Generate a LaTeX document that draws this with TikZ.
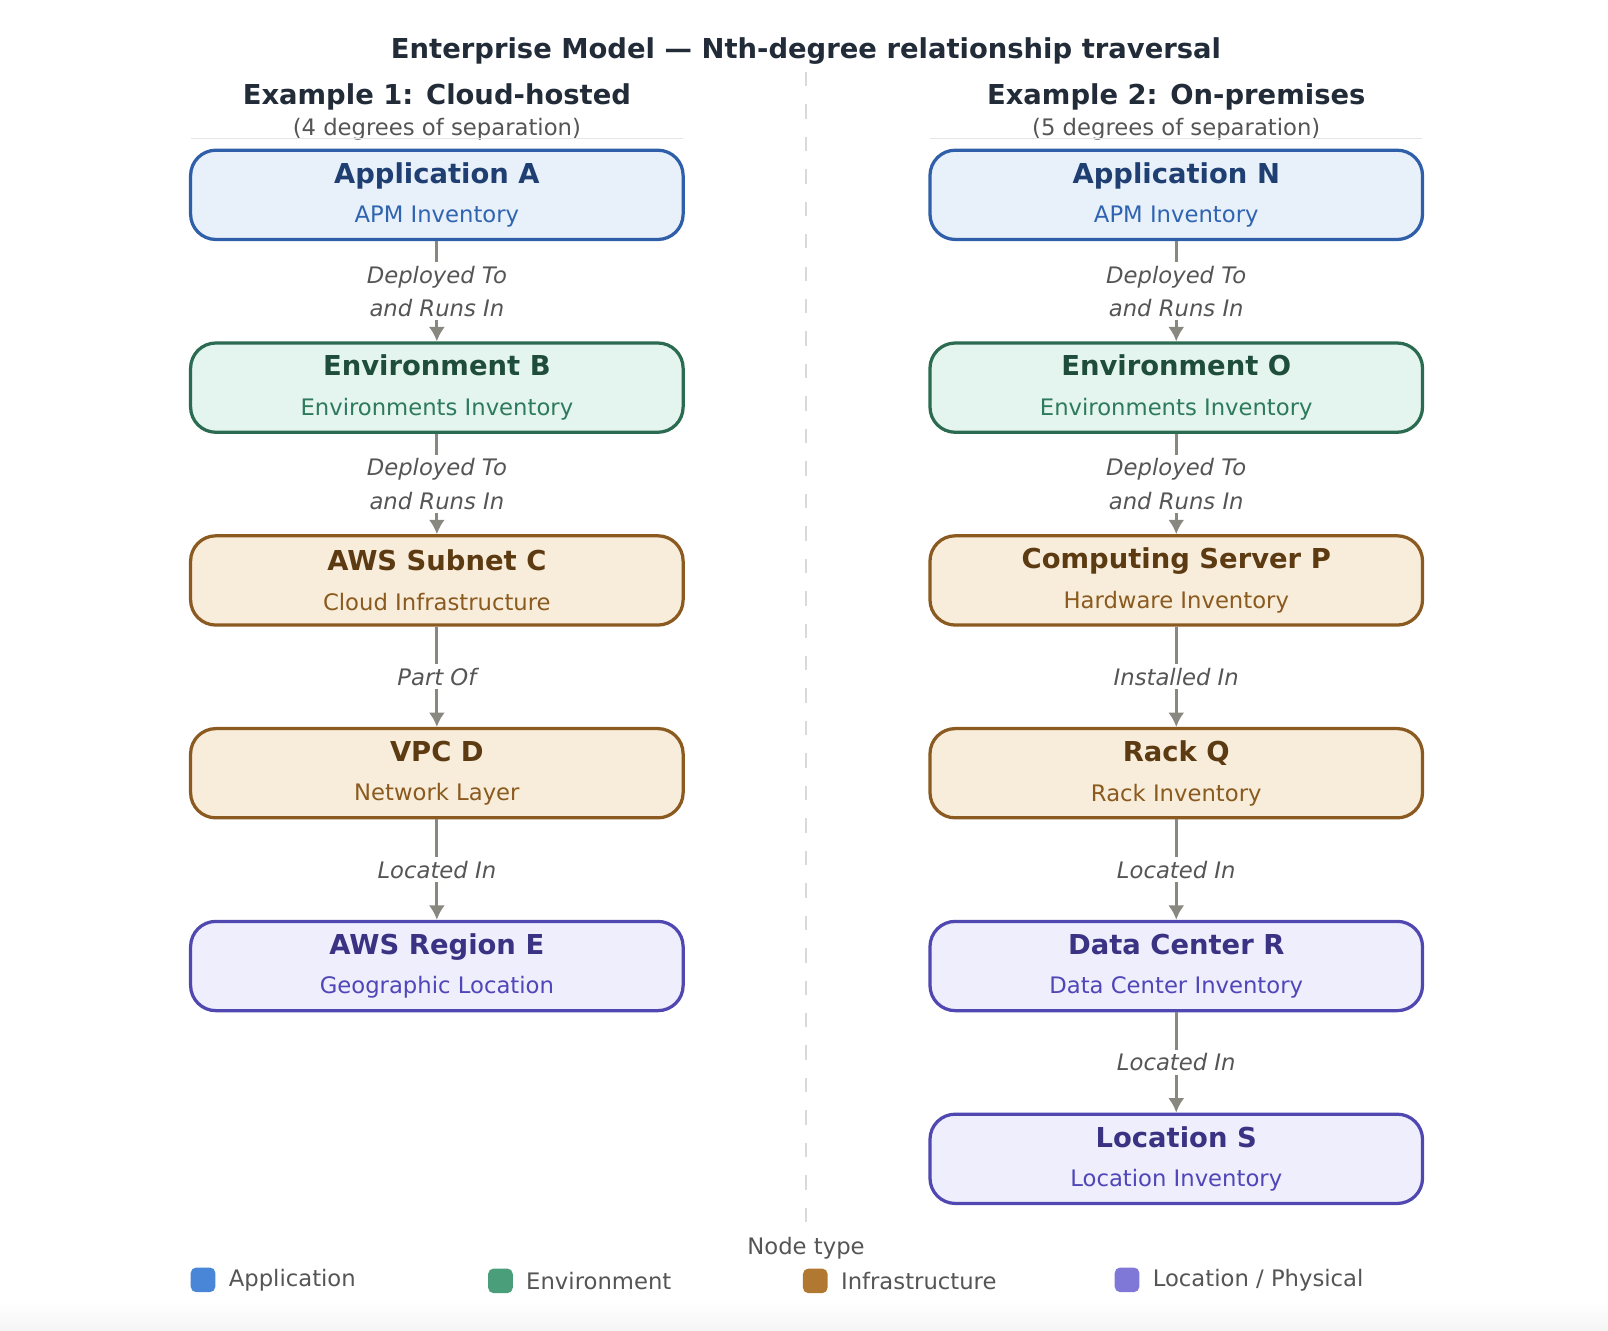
\documentclass[tikz,border=0pt]{standalone}
\usepackage{fontspec}
\setmainfont{DejaVu Sans}
\usetikzlibrary{positioning,arrows.meta}
\definecolor{appfill}{HTML}{E8F0FA}\definecolor{appdraw}{HTML}{2F5FA8}
\definecolor{apptxt}{HTML}{1F3F73}\definecolor{appsub}{HTML}{2F64B0}
\definecolor{envfill}{HTML}{E4F4EE}\definecolor{envdraw}{HTML}{2A6B52}
\definecolor{envtxt}{HTML}{1F4D3C}\definecolor{envsub}{HTML}{2E7A5E}
\definecolor{inffill}{HTML}{F8EDDA}\definecolor{infdraw}{HTML}{8A5A20}
\definecolor{inftxt}{HTML}{5C3A12}\definecolor{infsub}{HTML}{8A5A1F}
\definecolor{locfill}{HTML}{EEEEFC}\definecolor{locdraw}{HTML}{5048B0}
\definecolor{loctxt}{HTML}{3A3283}\definecolor{locsub}{HTML}{5046B8}
\definecolor{headtxt}{HTML}{222B38}\definecolor{greytxt}{HTML}{555555}
\definecolor{edgegrey}{HTML}{888880}
\definecolor{legapp}{HTML}{4A86D8}\definecolor{legenv}{HTML}{4A9E7A}
\definecolor{leginf}{HTML}{B07830}\definecolor{legloc}{HTML}{7F78D6}
\tikzset{
  box/.style={rounded corners=7pt, line width=0.9pt, minimum width=4.8cm, minimum height=0.87cm},
  app/.style={box, fill=appfill, draw=appdraw},
  env/.style={box, fill=envfill, draw=envdraw},
  inf/.style={box, fill=inffill, draw=infdraw},
  loc/.style={box, fill=locfill, draw=locdraw},
  rel/.style={edgegrey, line width=0.8pt, -{Latex[length=4pt,width=4.5pt]}},
  rlab/.style={fill=white, font=\fontsize{6.3}{9.2}\selectfont\itshape, text=greytxt, align=center, inner sep=1pt},
  leg/.style={rounded corners=1.5pt, minimum size=0.24cm, inner sep=0pt},
  legtxt/.style={font=\fontsize{6.3}{7}\selectfont, text=greytxt, anchor=west}
}
\newcommand{\boxtext}[3]{{\fontsize{7.6}{9}\selectfont\bfseries\color{#1txt}#2}\\[-1pt]{\fontsize{6.3}{8}\selectfont\color{#1sub}#3}}
\begin{document}
\begin{tikzpicture}[x=0.01cm, y=-0.01cm]
\useasboundingbox (0,0) rectangle (1568,1297);
\shade[top color=white, bottom color=black!4] (0,1270) rectangle (1568,1297);
% headings
\node (title) at (786,50) {\fontsize{7.6}{9}\selectfont\bfseries\color{headtxt}Enterprise Model — Nth-degree relationship traversal};
\node (h1) at (426,95) {\fontsize{7.6}{9}\selectfont\bfseries\color{headtxt}Example 1: Cloud-hosted};
\node (s1) at (426,126) {\fontsize{6.3}{8}\selectfont\color{greytxt}(4 degrees of separation)};
\node (h2) at (1147,95) {\fontsize{7.6}{9}\selectfont\bfseries\color{headtxt}Example 2: On-premises};
\node (s2) at (1147,126) {\fontsize{6.3}{8}\selectfont\color{greytxt}(5 degrees of separation)};
\draw[black!10, line width=0.5pt] (186,135) -- (666,135);
\draw[black!10, line width=0.5pt] (907,135) -- (1387,135);
\draw[black!15, dash pattern=on 4pt off 5pt, line width=0.5pt] (786,70) -- (786,1200);
% example 1
\node[app, align=center] (a) at (426,190) {\boxtext{app}{Application A}{APM Inventory}};
\node[env, align=center] (b) at (426,378) {\boxtext{env}{Environment B}{Environments Inventory}};
\node[inf, align=center] (c) at (426,566) {\boxtext{inf}{AWS Subnet C}{Cloud Infrastructure}};
\node[inf, align=center] (d) at (426,754) {\boxtext{inf}{VPC D}{Network Layer}};
\node[loc, align=center] (e) at (426,942) {\boxtext{loc}{AWS Region E}{Geographic Location}};
% example 2
\node[app, align=center] (n) at (1147,190) {\boxtext{app}{Application N}{APM Inventory}};
\node[env, align=center] (o) at (1147,378) {\boxtext{env}{Environment O}{Environments Inventory}};
\node[inf, align=center] (p) at (1147,566) {\boxtext{inf}{Computing Server P}{Hardware Inventory}};
\node[inf, align=center] (q) at (1147,754) {\boxtext{inf}{Rack Q}{Rack Inventory}};
\node[loc, align=center] (r) at (1147,942) {\boxtext{loc}{Data Center R}{Data Center Inventory}};
\node[loc, align=center] (s) at (1147,1130) {\boxtext{loc}{Location S}{Location Inventory}};
% relationships
\foreach \u/\v/\t in {a/b/{Deployed To\\and Runs In}, b/c/{Deployed To\\and Runs In}, c/d/{Part Of}, d/e/{Located In},
  n/o/{Deployed To\\and Runs In}, o/p/{Deployed To\\and Runs In}, p/q/{Installed In}, q/r/{Located In}, r/s/{Located In}}
  \draw[rel] (\u) -- node[rlab] {\t} (\v);
% legend
\node (lt) at (786,1217) {\fontsize{6.3}{7}\selectfont\color{greytxt}Node type};
\node[leg, fill=legapp] (l1) at (198,1248) {};
\node[legtxt] at (l1.east) {Application};
\node[leg, fill=legenv] (l2) at (488,1249) {};
\node[legtxt] at (l2.east) {Environment};
\node[leg, fill=leginf] (l3) at (795,1249) {};
\node[legtxt] at (l3.east) {Infrastructure};
\node[leg, fill=legloc] (l4) at (1099,1248) {};
\node[legtxt] at (l4.east) {Location / Physical};
\end{tikzpicture}
\end{document}
